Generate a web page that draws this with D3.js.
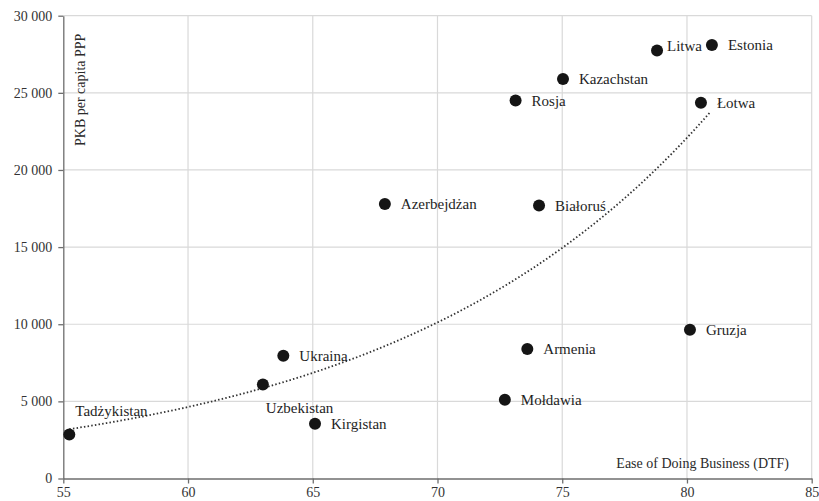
<!DOCTYPE html>
<html>
<head>
<meta charset="utf-8">
<script src="https://cdn.jsdelivr.net/npm/d3@7"></script>
<style>
  html, body { margin: 0; padding: 0; background: #fff; }
  svg { display: block; }
  text { font-family: "Liberation Serif", "Times New Roman", serif; }
</style>
</head>
<body>
<svg id="chart" width="819" height="501"></svg>
<script>
// ---- data ----
const countries = ["Tadżykistan","Uzbekistan","Ukraina","Kirgistan","Azerbejdżan","Białoruś","Armenia","Mołdawia","Gruzja","Rosja","Kazachstan","Litwa","Estonia","Łotwa"];
const dtf       = [55.24, 63.0, 63.82, 65.09, 67.89, 74.07, 73.6, 72.7, 80.12, 73.13, 75.03, 78.8, 81.0, 80.56];
const gdpPPP    = [2850, 6100, 7950, 3550, 17800, 17700, 8400, 5100, 9650, 24500, 25900, 27750, 28100, 24350];
const xTicks = [55, 60, 65, 70, 75, 80, 85];
const yTicks = [0, 5000, 10000, 15000, 20000, 25000, 30000];
const xTitle = "Ease of Doing Business (DTF)";
const yTitle = "PKB per capita PPP";

// ---- layout ----
const svg = d3.select("#chart");
const L = 63.3, R = 811.7, T = 15.7, B = 478.5;
const x = d3.scaleLinear().domain([55, 85]).range([L, R]);
const y = d3.scaleLinear().domain([0, 30000]).range([B, T]);
const fmt = v => v === 0 ? "0" : d3.format(",")(v).replace(/,/g, " ");

// gridlines
svg.append("g").selectAll("line.v").data(xTicks.slice(1)).join("line")
  .attr("x1", d => x(d)).attr("x2", d => x(d)).attr("y1", T).attr("y2", B)
  .attr("stroke", "#d9d9d9").attr("stroke-width", 1.2);
svg.append("g").selectAll("line.h").data(yTicks.slice(1)).join("line")
  .attr("x1", L).attr("x2", R).attr("y1", d => y(d)).attr("y2", d => y(d))
  .attr("stroke", "#d9d9d9").attr("stroke-width", 1.2);

// axes
const xAxis = svg.append("g").attr("transform", `translate(0,${B})`)
  .call(d3.axisBottom(x).tickValues(xTicks).tickSize(5).tickSizeOuter(0).tickPadding(4).tickFormat(d3.format("d")));
const yAxis = svg.append("g").attr("transform", `translate(${L},0)`)
  .call(d3.axisLeft(y).tickValues(yTicks).tickSize(5).tickSizeOuter(0).tickPadding(6).tickFormat(fmt));
[xAxis, yAxis].forEach(a => {
  a.select(".domain").attr("stroke", "#6e6e6e").attr("stroke-width", 1.3);
  a.selectAll(".tick line").attr("stroke", "#6e6e6e").attr("stroke-width", 1.3);
  a.selectAll(".tick text").attr("fill", "#333").style("font-size", "14px")
   .style("font-family", "'Liberation Serif', serif");
});

// exponential trendline fitted to data (least squares on ln y)
const lx = dtf, ly = gdpPPP.map(Math.log);
const mx = d3.mean(lx), my = d3.mean(ly);
const b = d3.sum(lx.map((v, i) => (v - mx) * (ly[i] - my))) / d3.sum(lx.map(v => (v - mx) ** 2));
const a = my - b * mx;
const xs = d3.range(d3.min(dtf), d3.max(dtf) + 0.001, 0.1);
const line = d3.line().x(d => x(d)).y(d => y(Math.exp(a + b * d)));
svg.append("path").datum(xs).attr("d", line)
  .attr("fill", "none").attr("stroke", "#333").attr("stroke-width", 1.8)
  .attr("stroke-dasharray", "1.5 2.2");

// points
const pts = countries.map((c, i) => ({ name: c, x: dtf[i], y: gdpPPP[i] }));
svg.append("g").selectAll("circle").data(pts).join("circle")
  .attr("cx", d => x(d.x)).attr("cy", d => y(d.y)).attr("r", 6)
  .attr("fill", "#151515");

// labels
const labelOffset = {
  "Tadżykistan": [6, -24], "Uzbekistan": [3, 23], "Litwa": [10, -5]
};
svg.append("g").selectAll("text").data(pts).join("text")
  .attr("x", d => x(d.x) + (labelOffset[d.name] ? labelOffset[d.name][0] : 16))
  .attr("y", d => y(d.y) + (labelOffset[d.name] ? labelOffset[d.name][1] : 0))
  .attr("dy", "0.35em")
  .attr("fill", "#1e1e1e").style("font-size", "15px")
  .text(d => d.name);

// axis titles
svg.append("text").attr("x", 789).attr("y", 468).attr("text-anchor", "end")
  .attr("fill", "#2a2a2a").style("font-size", "14px").text(xTitle);
svg.append("text").attr("transform", "translate(85,146) rotate(-90)")
  .attr("text-anchor", "start").attr("fill", "#2a2a2a").style("font-size", "14px").text(yTitle);
</script>
</body>
</html>
